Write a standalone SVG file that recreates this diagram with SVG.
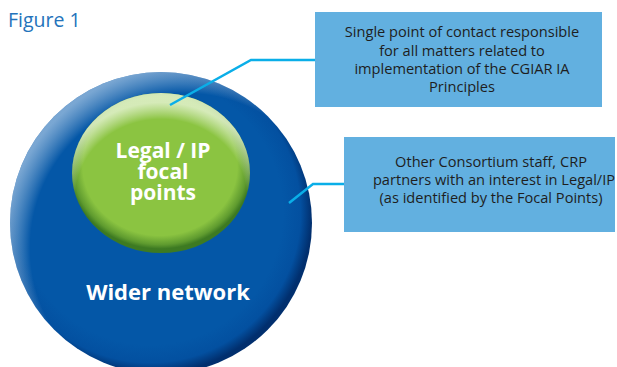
<svg xmlns="http://www.w3.org/2000/svg" width="617" height="367" viewBox="0 0 617 367">
<style>
.title{font-family:"Open Sans","Noto Sans",sans-serif;font-weight:400;font-size:19.5px;fill:#2473bb}
.box{fill:#62b0e0}
.bt{font-family:"Open Sans","Noto Sans",sans-serif;font-size:14.6px;fill:#1e1e1e;text-anchor:middle}
.wt{font-family:"Open Sans","Noto Sans",sans-serif;font-weight:700;fill:#ffffff;text-anchor:middle}
.conn{fill:none;stroke:#0aaee8;stroke-width:2.5}
</style>
<defs>
<radialGradient id="bDark" gradientUnits="userSpaceOnUse" cx="150" cy="212" r="162">
<stop offset="0.82" stop-color="#0457a7"/>
<stop offset="0.93" stop-color="#0350a0"/>
<stop offset="1" stop-color="#012f6e"/>
</radialGradient>
<radialGradient id="bLight" gradientUnits="userSpaceOnUse" cx="185" cy="248" r="182">
<stop offset="0.85" stop-color="#ffffff" stop-opacity="0"/>
<stop offset="1" stop-color="#c8dcf0" stop-opacity="0.6"/>
</radialGradient>
<radialGradient id="gDark" gradientUnits="userSpaceOnUse" cx="160" cy="166" r="92" gradientTransform="translate(160 166) scale(1 0.9) translate(-160 -166)">
<stop offset="0.84" stop-color="#8bc441"/>
<stop offset="0.95" stop-color="#5f9b2f"/>
<stop offset="1" stop-color="#3d7a22"/>
</radialGradient>
<radialGradient id="gLight" gradientUnits="userSpaceOnUse" cx="161" cy="196" r="104" gradientTransform="translate(161 196) scale(1 0.9) translate(-161 -196)">
<stop offset="0.82" stop-color="#ffffff" stop-opacity="0"/>
<stop offset="1" stop-color="#eef7e0" stop-opacity="0.75"/>
</radialGradient>
</defs>
<text class="title" x="8" y="27">Figure 1</text>
<g id="wider-network">
<circle cx="161" cy="223" r="151" fill="url(#bDark)"/>
<circle cx="161" cy="223" r="151" fill="url(#bLight)"/>
<text class="wt" x="168" y="300" font-size="22">Wider network</text>
</g>
<g id="focal-points">
<ellipse cx="161" cy="173" rx="89" ry="80" fill="url(#gDark)"/>
<ellipse cx="161" cy="173" rx="89" ry="80" fill="url(#gLight)"/>
<text class="wt" font-size="21"><tspan x="163" y="158">Legal / IP</tspan><tspan x="163" y="179">focal</tspan><tspan x="163" y="200">points</tspan></text>
</g>
<g id="box-contact">
<rect class="box" x="315" y="12" width="287" height="95"/>
<text class="bt"><tspan x="462" y="37">Single point of contact responsible</tspan><tspan x="462" y="55.5">for all matters related to</tspan><tspan x="462" y="74">implementation of the CGIAR IA</tspan><tspan x="462" y="92">Principles</tspan></text>
</g>
<g id="box-network">
<rect class="box" x="344" y="137" width="271" height="95"/>
<text class="bt"><tspan x="491" y="167">Other Consortium staff, CRP</tspan><tspan x="494" y="185">partners with an interest in Legal/IP</tspan><tspan x="491" y="203">(as identified by the Focal Points)</tspan></text>
</g>
<g id="connectors">
<polyline class="conn" points="170,105 251,60 315,60"/>
<polyline class="conn" points="289,203 313,184 344,184"/>
</g>
</svg>
